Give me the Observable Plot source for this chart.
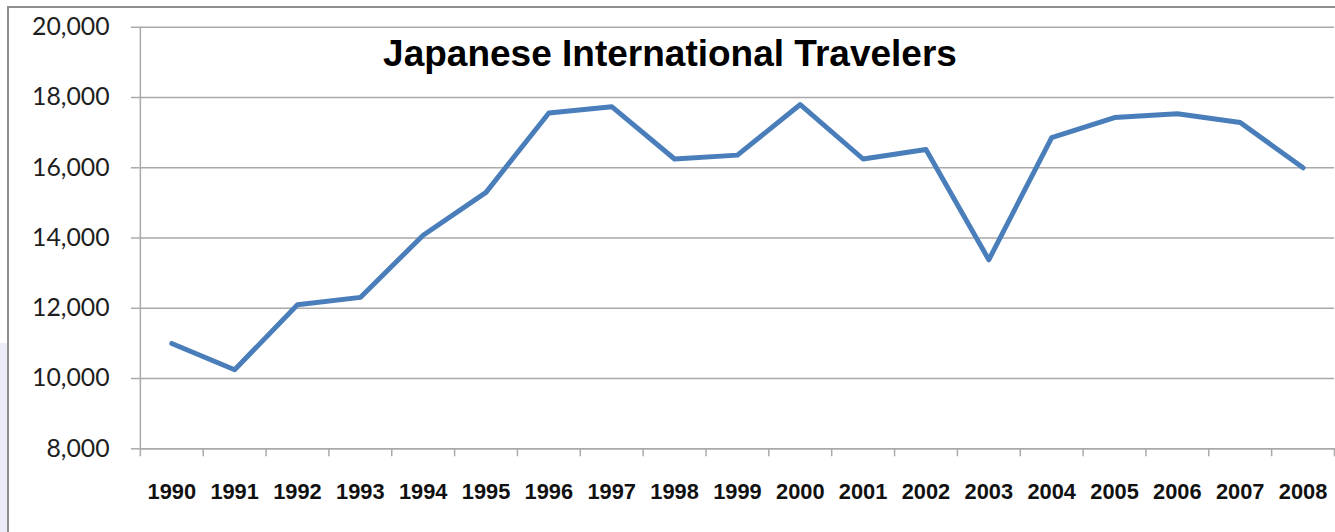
<!DOCTYPE html>
<html>
<head>
<meta charset="utf-8">
<script src="https://cdn.jsdelivr.net/npm/d3@7"></script>
<script src="https://cdn.jsdelivr.net/npm/@observablehq/plot@0.6"></script>
<style>
  html, body { margin: 0; padding: 0; background: #fff; }
  #wrap { position: relative; width: 1335px; height: 532px; overflow: hidden; background: #fff; }
  #deco { position: absolute; left: 0; top: 343px; width: 7px; height: 189px; background: #ececf9; }
  #frame { position: absolute; left: 7px; top: 6px; width: 1400px; height: 600px;
           border-left: 2px solid #8e8e8e; border-top: 2px solid #8e8e8e; }
  #chart { position: absolute; left: 0; top: 0; }
  #title { position: absolute; left: 670px; top: 35px; transform: translateX(-50%);
           font-family: "Liberation Sans", Arial, sans-serif; font-weight: bold; font-size: 37px;
           line-height: 37px; color: #000; white-space: nowrap; }
</style>
</head>
<body>
<div id="wrap">
  <div id="deco"></div>
  <div id="frame"></div>
  <div id="chart"></div>
  <div id="title">Japanese International Travelers</div>
</div>
<script>
// Data (thousands of travelers)
const years = [1990, 1991, 1992, 1993, 1994, 1995, 1996, 1997, 1998, 1999,
               2000, 2001, 2002, 2003, 2004, 2005, 2006, 2007, 2008];
const travelers = [11000, 10250, 12100, 12310, 14080, 15300, 17560, 17740, 16250, 16360,
                   17800, 16250, 16520, 13380, 16860, 17430, 17540, 17290, 16000];
const yTicks = [8000, 10000, 12000, 14000, 16000, 18000, 20000];

const rows = years.map((year, i) => ({year, value: travelers[i]}));
// category boundaries (Excel-style ticks between categories)
const boundaries = years.map(y => y - 0.5).concat([years[years.length - 1] + 0.5]);

const grid = "#a9a9a9";
const chart = Plot.plot({
  width: 1346,
  height: 532,
  marginLeft: 141,
  marginRight: 1,
  marginTop: 27,
  marginBottom: 80,
  style: {background: "transparent", overflow: "visible"},
  x: {type: "linear", domain: [boundaries[0], boundaries[boundaries.length - 1]]},
  y: {domain: [8000, 20000]},
  marks: [
    Plot.gridY(yTicks, {stroke: grid, strokeOpacity: 1, strokeWidth: 1.5}),
    Plot.axisY(yTicks, {
      tickSize: 9, tickPadding: 22, tickFormat: d3.format(","), label: null,
      stroke: grid, strokeWidth: 1.5, fill: "#1e1e1e",
      fontFamily: "Lato, 'Open Sans', sans-serif", fontSize: 25, letterSpacing: 1
    }),
    Plot.axisX(boundaries, {
      tickSize: 8, tickFormat: () => "", label: null, stroke: grid, strokeWidth: 1.5
    }),
    Plot.axisX(years, {
      tickSize: 0, tickPadding: 35, tickFormat: d => String(d), label: null,
      fill: "#111", fontFamily: "'Liberation Sans', Arial, sans-serif",
      fontWeight: "bold", fontSize: 22
    }),
    Plot.ruleX([boundaries[0]], {stroke: grid, strokeWidth: 1.5}),
    Plot.ruleY([8000], {stroke: grid, strokeWidth: 1.5}),
    Plot.line(rows, {
      x: "year", y: "value", stroke: "#4a7ebb", strokeWidth: 5,
      strokeLinejoin: "round", strokeLinecap: "round"
    })
  ]
});
document.getElementById("chart").appendChild(chart);
</script>
</body>
</html>
